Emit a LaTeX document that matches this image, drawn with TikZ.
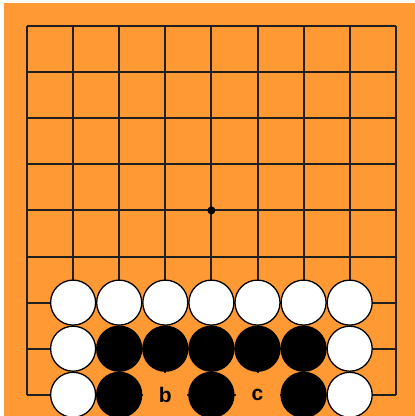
\documentclass[tikz,border=0pt]{standalone}
\usepackage{fontspec}
\setmainfont{Liberation Sans}
\definecolor{board}{HTML}{FF9933}
\begin{document}
\begin{tikzpicture}[x=1pt,y=-1pt,
  gridline/.style={line width=2pt,draw=black!88},
  wstone/.style={circle,minimum size=45pt,inner sep=0pt,fill=white,draw=black,line width=1.3pt},
  bstone/.style={circle,minimum size=45pt,inner sep=0pt,fill=black,draw=black,line width=1.3pt},
  lbl/.style={font=\bfseries\fontsize{21}{21}\selectfont,text=black,inner sep=0pt},
  blank/.style={fill=board,minimum size=44pt,inner sep=0pt},
  hoshi/.style={circle,fill=black,minimum size=8pt,inner sep=0pt}]
\useasboundingbox (0,0) rectangle (415,416);
\fill[white] (0,0) rectangle (415,416);
\fill[board] (4,3) rectangle (415,416);
\foreach \i in {0,...,8}{
  \draw[gridline] ({27+46.1*\i},26) -- ({27+46.1*\i},395);
  \draw[gridline] (27,{26+46.1*\i}) -- (396,{26+46.1*\i});
}
\node[hoshi] (h) at ({27+46.1*4},{26+46.1*4}) {};
% label backgrounds
\node[blank] (bg3) at ({27+46.1*3},{26+46.1*8}) {};
\node[blank] (bg5) at ({27+46.1*5},{26+46.1*8}) {};
% white stones
\foreach \c in {1,...,7}{
  \node[wstone] (w6\c) at ({27+46.1*\c},{26+46.1*6}) {};
}
\node[wstone] (w71) at ({27+46.1*1},{26+46.1*7}) {};
\node[wstone] (w77) at ({27+46.1*7},{26+46.1*7}) {};
\node[wstone] (w81) at ({27+46.1*1},{26+46.1*8}) {};
\node[wstone] (w87) at ({27+46.1*7},{26+46.1*8}) {};
% black stones
\foreach \c in {2,...,6}{
  \node[bstone] (b7\c) at ({27+46.1*\c},{26+46.1*7}) {};
}
\node[bstone] (b82) at ({27+46.1*2},{26+46.1*8}) {};
\node[bstone] (b84) at ({27+46.1*4},{26+46.1*8}) {};
\node[bstone] (b86) at ({27+46.1*6},{26+46.1*8}) {};
\node[lbl] (lb) at ({27+46.1*3},{26+46.1*8}) {b};
\node[lbl] (lc) at ({27+46.1*5},{26+46.1*8}) {c};
\end{tikzpicture}
\end{document}
